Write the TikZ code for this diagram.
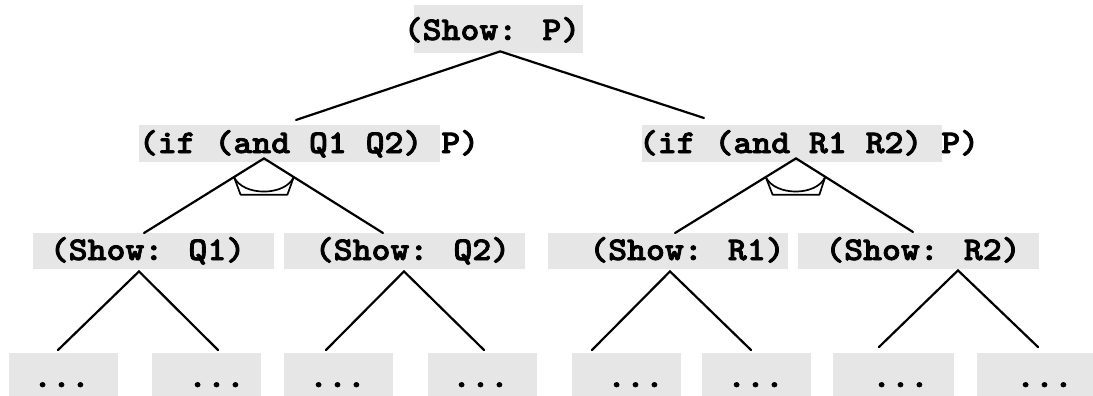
\documentclass[tikz,border=0pt]{standalone}
\usepackage{graphicx}
\usepackage{fontspec}
\usetikzlibrary{calc}
\newfontfamily\codefont{lmmonolt10-bold.otf}[FakeBold=2.2]
\definecolor{hlgray}{RGB}{230,230,230}
% typewriter text, slightly flattened
\newcommand\squash[1]{\scalebox{1}[0.92]{#1}}
\tikzset{
  hlbox/.style={fill=hlgray, draw=none, inner sep=0pt, anchor=north west},
  code/.style={font=\codefont\fontsize{36}{36}\selectfont, inner sep=0pt, anchor=base},
  edge/.style={line width=2.2pt, line cap=round},
  andmark/.style={line width=1.7pt, line join=round}
}
\begin{document}
\begin{tikzpicture}[x=1pt,y=-1pt]
\useasboundingbox (0,0) rectangle (1093,396);

% highlighted boxes
\node[hlbox, minimum width=169pt, minimum height=48pt] (bP) at (414,5) {};
\node[hlbox, minimum width=301pt, minimum height=37pt] (bL) at (139,125) {};
\node[hlbox, minimum width=300pt, minimum height=37pt] (bR) at (642,125) {};
\node[hlbox, minimum width=241pt, minimum height=36pt] (bQ1) at (33,233) {};
\node[hlbox, minimum width=241pt, minimum height=36pt] (bQ2) at (284,233) {};
\node[hlbox, minimum width=240pt, minimum height=36pt] (bR1) at (548,233) {};
\node[hlbox, minimum width=241pt, minimum height=36pt] (bR2) at (798,233) {};
\node[hlbox, minimum width=109pt, minimum height=43pt] (d1) at (9,353) {};
\node[hlbox, minimum width=109pt, minimum height=43pt] (d2) at (152,353) {};
\node[hlbox, minimum width=109pt, minimum height=43pt] (d3) at (284,353) {};
\node[hlbox, minimum width=109pt, minimum height=43pt] (d4) at (428,353) {};
\node[hlbox, minimum width=109pt, minimum height=43pt] (d5) at (572,353) {};
\node[hlbox, minimum width=109pt, minimum height=43pt] (d6) at (702,353) {};
\node[hlbox, minimum width=121pt, minimum height=43pt] (d7) at (833,353) {};
\node[hlbox, minimum width=116pt, minimum height=43pt] (d8) at (977,353) {};

% texts
\node[code] (tP) at (492,40) {\squash{(Show: P)}};
\node[code] (tL) at (309,153) {\squash{(if (and Q1 Q2) P)}};
\node[code] (tR) at (809,153) {\squash{(if (and R1 R2) P)}};
\node[code] (tQ1) at (147.5,260) {\squash{(Show: Q1)}};
\node[code] (tQ2) at (412.5,260) {\squash{(Show: Q2)}};
\node[code] (tR1) at (687,260) {\squash{(Show: R1)}};
\node[code] (tR2) at (923,260) {\squash{(Show: R2)}};
\foreach \n/\x in {1/61.5,2/216.5,3/337.5,4/480.5,5/635.5,6/755.5,7/900.5,8/1044.5}
  \node[code] (td\n) at (\x,387) {\squash{...}};

% connector ends
\coordinate (Pout) at ([xshift=1.5pt,yshift=2pt]bP.south);
\coordinate (Lin) at ([xshift=157pt,yshift=5pt]bL.north west);
\coordinate (Rin) at ([xshift=62pt,yshift=7pt]bR.north west);
\coordinate (Lout) at ([xshift=125pt,yshift=4pt]bL.south west);
\coordinate (Rout) at ([xshift=154pt,yshift=4pt]bR.south west);
\coordinate (Q1in) at ([xshift=111pt]bQ1.north west);
\coordinate (Q2in) at ([xshift=99pt]bQ2.north west);
\coordinate (R1in) at ([xshift=127pt]bR1.north west);
\coordinate (R2in) at ([xshift=115pt,yshift=1pt]bR2.north west);
\coordinate (Q1out) at ([xshift=106pt,yshift=-2pt]bQ1.south west);
\coordinate (Q2out) at ([xshift=120pt,yshift=-2pt]bQ2.south west);
\coordinate (R1out) at ([xshift=122pt,yshift=-2pt]bR1.south west);
\coordinate (R2out) at ([xshift=160pt,yshift=-1pt]bR2.south west);
\coordinate (d1in) at ([xshift=49pt,yshift=3pt]d1.north west);
\coordinate (d2in) at ([xshift=66pt,yshift=3pt]d2.north west);
\coordinate (d3in) at ([xshift=42pt,yshift=3pt]d3.north west);
\coordinate (d4in) at ([xshift=56pt,yshift=3pt]d4.north west);
\coordinate (d5in) at ([xshift=20pt,yshift=3pt]d5.north west);
\coordinate (d6in) at ([xshift=49pt,yshift=3pt]d6.north west);
\coordinate (d7in) at ([xshift=46pt,yshift=6pt]d7.north west);
\coordinate (d8in) at ([xshift=61pt,yshift=6pt]d8.north west);

% connectors
\draw[edge] (Lin) -- (Pout) -- (Rin);
\draw[edge] (Q1in) -- (Lout) -- (Q2in);
\draw[edge] (R1in) -- (Rout) -- (R2in);
\draw[edge] (d1in) -- (Q1out) -- (d2in);
\draw[edge] (d3in) -- (Q2out) -- (d4in);
\draw[edge] (d5in) -- (R1out) -- (d6in);
\draw[edge] (d7in) -- (R2out) -- (d8in);

% conjunction marks
\foreach \a/\l/\r in {Lout/Q1in/Q2in, Rout/R1in/R2in}{
  \coordinate (al) at ($(\a)!.25!(\l)$);
  \coordinate (ar) at ($(\a)!.25!(\r)$);
  \draw[andmark] (al) .. controls ($(\a)+(-21,38)$) and ($(\a)+(21,38)$) .. (ar);
  \draw[andmark] (al) -- ($(\a)+(-23.4,36.3)$) -- ($(\a)+(23.4,36.3)$) -- (ar);
}
\end{tikzpicture}
\end{document}
